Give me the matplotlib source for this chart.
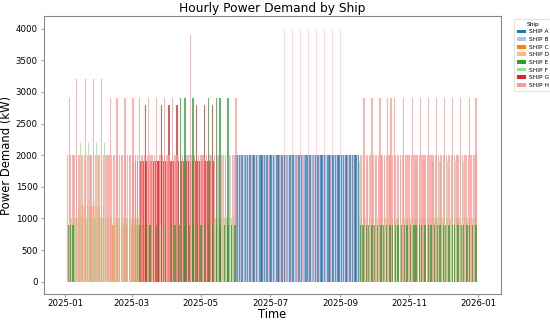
import matplotlib
matplotlib.use("Agg")
import matplotlib.pyplot as plt
import pandas as pd

START = pd.Timestamp("2025-01-01")

SHIP_NAMES = ["SHIP A", "SHIP B", "SHIP C", "SHIP D", "SHIP E", "SHIP F", "SHIP G", "SHIP H"]
SHIP_COLORS = ["#1f77b4", "#aec7e8", "#ff7f0e", "#ffbb78", "#2ca02c", "#98df8a", "#d62728", "#ff9896"]

# day offsets from 2025-01-01, grouped by demand level (kW)
A_2000 = [151, 152, 154, 156, 157, 159, 161, 163, 164, 166, 167, 169, 172, 173, 174, 176, 178, 179,
          181, 182, 184, 187, 188, 189, 191, 192, 194, 196, 198, 199, 201, 202, 204, 206, 207, 209,
          212, 213, 214, 216, 217, 219, 221, 223, 224, 226, 227, 229, 232, 233, 234, 236, 237, 239,
          241, 242, 244, 246, 248, 249, 251, 252, 254, 256, 257, 259]

B_2000 = [100, 102, 104, 107, 109, 111, 114, 118, 121, 125, 128, 132, 135, 139, 142, 146, 149,
          153, 158, 162, 168, 171, 177, 183, 186, 193, 197, 203, 208, 211, 218, 222, 228, 231, 238,
          243, 247, 253, 258]

C_900 = [40, 42, 44, 46, 48, 50, 52, 54, 57, 59, 61, 63, 65, 68, 70, 73, 75]

D_1200 = [10, 12, 14, 16, 18, 20, 22, 24, 26, 28, 30, 32, 34]

E_900 = [3, 5, 7, 66, 72, 75, 81, 85, 89, 94, 97, 101, 106, 110, 113, 117, 120, 123, 127, 130, 134,
         137, 141, 144, 147, 150, 261, 263, 266, 268, 271, 273, 276, 279, 281, 284, 287, 289, 292,
         294, 297, 300, 302, 305, 308, 310, 313, 315, 318, 321, 323, 326, 329, 331, 334, 336, 339,
         342, 344, 347, 350, 352, 355, 357, 360, 363]
E_2900 = [102, 106, 113, 127, 134, 137, 144]

F_1000 = [4, 6, 8, 9, 11, 13, 15, 17, 19, 20, 22, 24, 26, 27, 29, 31, 33, 34, 36, 38, 40, 41, 43, 45,
          47, 48, 50, 52, 54, 55, 57, 59, 61, 63, 65, 133, 135, 137, 139, 141, 143, 145, 147, 149,
          260, 262, 264, 265, 267, 269, 271, 272, 274, 276, 278, 280, 282, 283, 285, 287, 289, 291,
          293, 294, 296, 298, 300, 302, 304, 305, 307, 309, 311, 313, 315, 316, 318, 320, 322, 324,
          326, 327, 329, 331, 333, 335, 337, 338, 340, 342, 344, 346, 348, 349, 351, 353, 355, 357,
          359, 360, 362]
F_1900 = [260, 267, 274, 282, 288, 296, 310, 317, 325, 331, 338, 345, 352]
F_2200 = [14, 21, 28, 35]

G_1900 = [60, 62, 64, 67, 69, 71, 72, 74, 76, 78, 80, 82, 83, 85, 87, 89, 91, 93, 94, 96, 98, 100,
          103, 105, 107, 109, 111, 113, 115, 117, 119, 121, 124, 126, 128, 131]
G_2800 = [71, 85, 92, 99, 116, 123, 130]

H_2000 = [2, 4, 5, 7, 8, 10, 12, 13, 15, 17, 18, 20, 22, 23, 25, 27, 29, 30, 32, 34, 36, 37, 39, 41,
          43, 44, 46, 48, 50, 51, 53, 55, 57, 58, 60, 62, 64, 66, 68, 70, 73, 75, 77, 79, 81, 84, 86,
          88, 90, 92, 95, 97, 99, 102, 104, 106, 108, 110, 112, 114, 118, 120, 122, 125, 127, 129,
          132, 134, 136, 138, 140, 142, 145, 148, 150,
          155, 160, 165, 170, 175, 180, 185, 190, 195, 200, 205, 210, 215, 220, 225, 230, 235, 240,
          245, 250, 255,
          261, 262, 264, 266, 267, 269, 270, 272, 274, 275, 277, 279, 280, 282, 284, 286, 287, 289,
          291, 292, 294, 296, 298, 299, 301, 303, 304, 306, 308, 310, 311, 313, 315, 316, 318, 320,
          322, 323, 325, 327, 328, 330, 332, 334, 335, 337, 339, 341, 342, 344, 346, 347, 349, 351,
          353, 354, 356, 358, 359, 361, 363]
H_2900 = [4, 40, 46, 53, 60, 66, 74, 81, 88, 95, 151, 264, 271, 278, 285, 288, 291, 299, 307, 314,
          321, 328, 335, 342, 349, 357, 363]
H_3200 = [10, 18, 25, 32]
H_3900 = [111]
H_4000_FAINT = [194, 201, 208, 215, 222, 229, 236, 243]

SHIP_LEVELS = [
    [(2000, A_2000)],
    [(2000, B_2000)],
    [(900, C_900)],
    [(1200, D_1200)],
    [(900, E_900), (2900, E_2900)],
    [(1000, F_1000), (1900, F_1900), (2200, F_2200)],
    [(1900, G_1900), (2800, G_2800)],
    [(2000, H_2000), (2900, H_2900), (3200, H_3200), (3900, H_3900)],
]
# drawing order: ship E last so its green bars stay on top
DRAW_ORDER = [0, 1, 2, 3, 5, 6, 7, 4]

BAR_WIDTH = 1.2
BAR_ALPHA = 0.75
SPINE_COLOR = "#888888"


def _dates(offsets):
    return [START + pd.Timedelta(days=d) for d in offsets]


fig = plt.figure(figsize=(5.5, 3.2), dpi=100)
ax = fig.add_axes([0.08, 0.0803, 0.831, 0.8697])

handles = {}
for z, i in enumerate(DRAW_ORDER):
    name, color = SHIP_NAMES[i], SHIP_COLORS[i]
    for kw, days in SHIP_LEVELS[i]:
        bars = ax.bar(_dates(days), [kw] * len(days), width=BAR_WIDTH, color=color,
                      alpha=BAR_ALPHA, linewidth=0, zorder=2 + z)
        handles.setdefault(name, bars)
    if name == "SHIP H":
        ax.bar(_dates(H_4000_FAINT), [4000] * len(H_4000_FAINT), width=BAR_WIDTH,
               color=color, alpha=0.4, linewidth=0, zorder=1)

ax.set_xlim(START - pd.Timedelta(days=18.5), START + pd.Timedelta(days=385))
ax.set_ylim(-200, 4200)
ax.set_yticks([0, 500, 1000, 1500, 2000, 2500, 3000, 3500, 4000])

ax.set_title("Hourly Power Demand by Ship", fontsize=8.8, pad=3)
ax.set_xlabel("Time", fontsize=8.3, labelpad=0)
ax.set_ylabel("Power Demand (kW)", fontsize=8.4, labelpad=2)
ax.tick_params(labelsize=6.2, length=2.5, width=0.6, pad=2, color=SPINE_COLOR)
ax.tick_params(axis="x", pad=1.2)
for s in ax.spines.values():
    s.set_color(SPINE_COLOR)
    s.set_linewidth(0.8)

leg = ax.legend([handles[n] for n in SHIP_NAMES], SHIP_NAMES, title="Ship", loc="upper left",
                bbox_to_anchor=(1.022, 1.0), fontsize=4.2, title_fontsize=4.2, frameon=True,
                handlelength=1.5, handleheight=0.6, handletextpad=0.6, labelspacing=0.45,
                borderpad=0.5)
leg.get_frame().set_edgecolor("#cccccc")
leg.get_frame().set_linewidth(0.5)
for h in leg.legend_handles:
    h.set_alpha(1.0)

fig.savefig("out.png", dpi=100)
